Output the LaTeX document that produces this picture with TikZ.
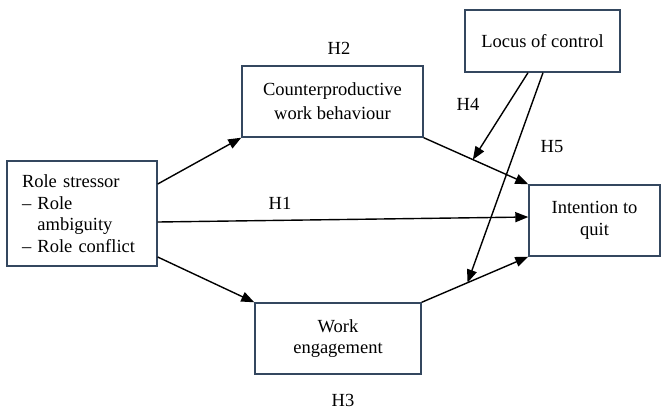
\documentclass[tikz,border=0pt]{standalone}
\usepackage{fontspec}
\setmainfont{Liberation Serif}
\usetikzlibrary{calc,arrows.meta}
\definecolor{boxcol}{HTML}{34475F}
\begin{document}
\begin{tikzpicture}[x=1pt,y=-1pt,
  box/.style={draw=boxcol,line width=1.4pt,align=center,inner sep=0pt,
    font=\fontsize{18.5}{21.5}\selectfont},
  lbl/.style={font=\fontsize{18.5}{21.5}\selectfont,inner sep=0pt},
  arr/.style={line width=1.4pt,-{Triangle[length=13pt,width=10pt]}}]
\useasboundingbox (0,0) rectangle (669,410);
\node[box,minimum width=150pt,minimum height=105pt,align=left,text width=120pt,inner xsep=15pt] (role) at (82,213.5)
  {Role stressor\\ -- Role\\ \phantom{-- }ambiguity\\ -- Role conflict};
\node[box,minimum width=155pt,minimum height=62pt] (locus) at (542.5,41) {Locus of control};
\node[box,minimum width=181pt,minimum height=71pt,font=\fontsize{18.5}{24}\selectfont] (cwb) at (332.5,101.5) {Counterproductive\\work behaviour};
\node[box,minimum width=131pt,minimum height=71pt] (iq) at (594.5,220.5) {Intention to\\quit};
\node[box,minimum width=166pt,minimum height=71pt] (we) at (338,338.5) {Work\\engagement};
\node[lbl] (h1) at (280,203) {H1};
\node[lbl] (h2) at (339,48) {H2};
\node[lbl] (h3) at (343,400) {H3};
\node[lbl] (h4) at (468,104) {H4};
\node[lbl] (h5) at (552,147) {H5};
\coordinate (r1) at ($(role.east)+(0,-29.5)$);
\coordinate (r2) at ($(role.east)+(0,8.5)$);
\coordinate (r3) at ($(role.east)+(0,43.5)$);
\coordinate (iqin) at ($(iq.west)+(0,-3.5)$);
\coordinate (t1) at ($(cwb.south east)!0.47!(iq.north west)$);
\coordinate (t2) at ($(we.north east)!0.43!(iq.south west)$);
\coordinate (l1) at ($(locus.south)+(-14.5,0)$);
\coordinate (l2) at ($(locus.south)+(0.5,0)$);
\draw[arr] (r1) -- (cwb.south west);
\draw[arr] (r2) -- (iqin);
\draw[arr] (r3) -- (we.north west);
\draw[arr] (cwb.south east) -- (iq.north west);
\draw[arr] (we.north east) -- (iq.south west);
\draw[arr] (l1) -- (t1);
\draw[arr] (l2) -- (t2);
\end{tikzpicture}
\end{document}
